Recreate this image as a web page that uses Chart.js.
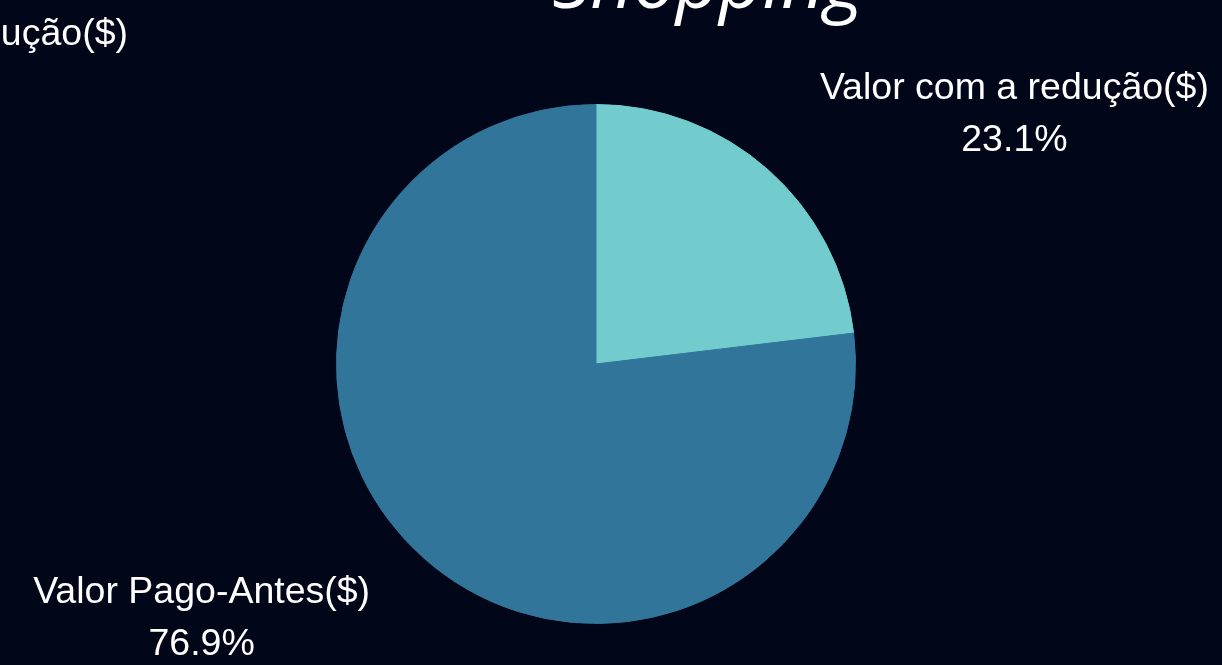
<!DOCTYPE html>
<html>
<head>
  <meta charset="UTF-8">
  <title>Shopping</title>
  <style>
    html, body { margin: 0; padding: 0; background: #010618; overflow: hidden; }
    #wrap { width: 1222px; height: 665px; }
  </style>
  <script src="https://cdn.jsdelivr.net/npm/chart.js"></script>
</head>
<body>
  <div id="wrap"><canvas id="pie"></canvas></div>

  <script>
    // data
    const labels = ['Valor com a redução($)', 'Valor Pago-Antes($)'];
    const values = [23.1, 76.9];
    const colors = ['#72CCCD', '#31769A'];
    const title = 'Shopping';

    // outside labels: name + percentage, matplotlib style
    const outsideLabels = {
      id: 'outsideLabels',
      afterDatasetsDraw(chart) {
        const ctx = chart.ctx;
        const meta = chart.getDatasetMeta(0);
        const total = values.reduce((a, b) => a + b, 0);
        ctx.save();
        ctx.font = '37.5px "Liberation Sans", Arial, sans-serif';
        ctx.fillStyle = '#ffffff';
        ctx.textBaseline = 'alphabetic';
        meta.data.forEach((arc, i) => {
          const p = arc.getProps(['x', 'y', 'startAngle', 'endAngle', 'outerRadius'], true);
          const mid = (p.startAngle + p.endAngle) / 2;
          const px = p.x + Math.cos(mid) * p.outerRadius * 1.3;
          const py = p.y + Math.sin(mid) * p.outerRadius * 1.3;
          const lines = [labels[i], (values[i] / total * 100).toFixed(1) + '%'];
          const w = Math.max(...lines.map(l => ctx.measureText(l).width));
          const cx = Math.cos(mid) >= 0 ? px + w / 2 : px - w / 2 - 2;
          ctx.textAlign = 'center';
          ctx.fillText(lines[0], cx, py - 13);
          ctx.fillText(lines[1], cx, py + 39);
        });

        // legend entry that runs off the left edge
        ctx.textAlign = 'right';
        ctx.fillText(labels[0], 128, 45);

        // title, mostly cut off at the top
        ctx.font = 'italic 75px "Open Sans", sans-serif';
        ctx.textAlign = 'center';
        ctx.fillText(title, 708, 8);
        ctx.restore();
      }
    };

    new Chart(document.getElementById('pie'), {
      type: 'pie',
      data: {
        labels: labels,
        datasets: [{
          data: values,
          backgroundColor: colors,
          borderColor: colors,
          borderWidth: 1
        }]
      },
      options: {
        responsive: true,
        maintainAspectRatio: false,
        animation: false,
        layout: { padding: { left: 336, right: 366, top: 104, bottom: 41 } },
        plugins: {
          legend: { display: false },
          tooltip: { enabled: false },
          title: { display: false }
        }
      },
      plugins: [outsideLabels]
    });
  </script>
</body>
</html>
